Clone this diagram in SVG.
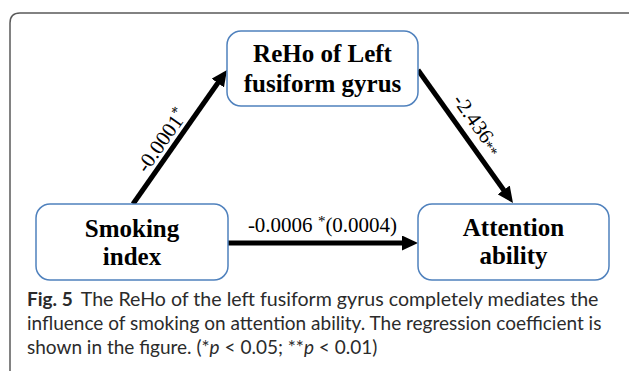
<svg xmlns="http://www.w3.org/2000/svg" width="629" height="371" viewBox="0 0 629 371">
<style>
.frame{fill:none;stroke:#5a5a5a;stroke-width:1.5}
.box{fill:#ffffff;stroke:#4f81bd;stroke-width:1.5}
.nt{font-family:"Liberation Serif","Times New Roman",serif;font-weight:bold;font-size:25px;fill:#000;text-anchor:middle}
.el{font-family:"Liberation Serif","Times New Roman",serif;font-size:21px;fill:#000;text-anchor:middle}
.ast{font-size:15px}
.edge{stroke:#000;stroke-width:5;fill:none;marker-end:url(#ah)}
.cap{font-family:"Lato","Open Sans",sans-serif;font-size:19px;fill:#2b2b2b}
</style>
<defs>
<marker id="ah" markerUnits="userSpaceOnUse" markerWidth="16" markerHeight="15" refX="4" refY="7.5" orient="auto" viewBox="0 0 16 15">
<path d="M0,0 L16,7.5 L0,15 z" fill="#000"/>
</marker>
</defs>
<rect width="629" height="371" fill="#ffffff"/>
<path class="frame" d="M10,380 L10,23 Q10,13 20,13 L640,13"/>
<g id="connectors">
<path class="edge" d="M133,204 L220.1,79.8"/>
<path class="edge" d="M418,70 L506,193.2"/>
<path class="edge" d="M228,243 L406,243"/>
<text class="el" transform="translate(167.5,144.5) rotate(-55)">-0.0001<tspan class="ast" dy="-7">*</tspan></text>
<text class="el" transform="translate(472,128.5) rotate(54.5)">-2.436<tspan class="ast" dy="2">**</tspan></text>
<text class="el" x="322.5" y="232" font-size="22px">-0.0006 <tspan class="ast" dy="-6">*</tspan><tspan dy="6">(0.0004)</tspan></text>
</g>
<g id="node-reho">
<rect class="box" x="227" y="31" width="191" height="75" rx="14"/>
<text class="nt" x="322.5" y="62">ReHo of Left</text>
<text class="nt" x="322.5" y="92">fusiform gyrus</text>
</g>
<g id="node-smoking">
<rect class="box" x="36" y="204" width="192" height="76" rx="14"/>
<text class="nt" x="132" y="237">Smoking</text>
<text class="nt" x="132" y="265">index</text>
</g>
<g id="node-attention">
<rect class="box" x="418" y="204" width="191" height="76" rx="14"/>
<text class="nt" x="513.5" y="236">Attention</text>
<text class="nt" x="513.5" y="264">ability</text>
</g>
<g id="caption">
<text class="cap" x="27" y="306"><tspan font-weight="bold">Fig. 5</tspan><tspan dx="8" font-size="19.6px">The ReHo of the left fusiform gyrus completely mediates the</tspan></text>
<text class="cap" x="27" y="330" font-size="19.2px">influence of smoking on attention ability. The regression coefficient is</text>
<text class="cap" x="27" y="354">shown in the figure. (*<tspan font-style="italic">p</tspan> &lt; 0.05; **<tspan font-style="italic">p</tspan> &lt; 0.01)</text>
</g>
</svg>
